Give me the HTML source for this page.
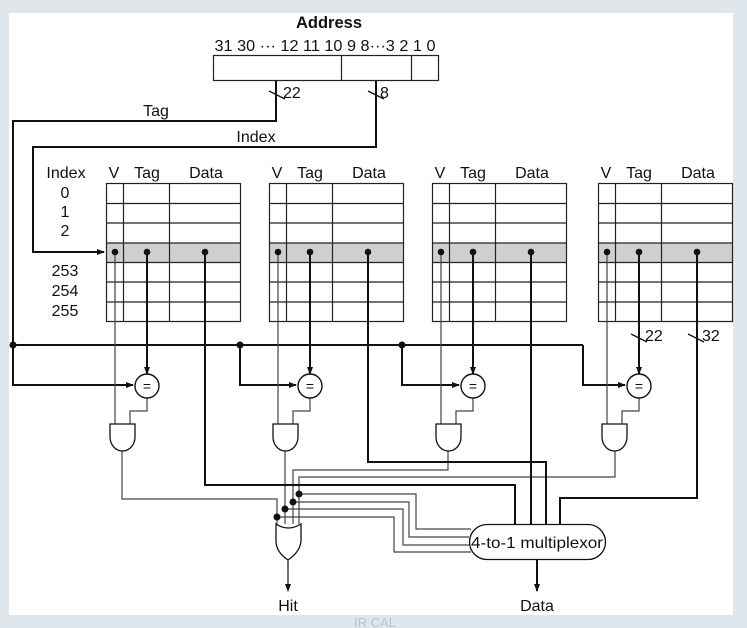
<!DOCTYPE html>
<html><head><meta charset="utf-8"><style>
html,body{margin:0;padding:0;background:#dfe6ec;}
svg{display:block;}
text{font-family:"Liberation Sans",Arial,sans-serif;fill:#111;}
</style></head><body>
<svg width="747" height="628" viewBox="0 0 747 628" xmlns="http://www.w3.org/2000/svg">
<defs>
<marker id="ar" markerWidth="8" markerHeight="8" refX="7" refY="4" orient="auto" markerUnits="userSpaceOnUse">
<path d="M0,1 L8,4 L0,7 z" fill="#111"/></marker>
</defs>
<rect x="9" y="13" width="724" height="602" fill="#fff"/>

<text x="329" y="28" font-size="16.5" font-weight="bold" text-anchor="middle">Address</text>
<text x="325" y="51" font-size="16" text-anchor="middle" textLength="221" lengthAdjust="spacingAndGlyphs">31 30 ··· 12 11 10 9 8···3 2 1 0</text>
<rect x="213.5" y="55.5" width="225" height="25" fill="none" stroke="#222" stroke-width="1.2"/>
<line x1="341.5" y1="55" x2="341.5" y2="81" stroke="#222" stroke-width="1.2"/>
<line x1="411.5" y1="55" x2="411.5" y2="81" stroke="#222" stroke-width="1.2"/>

<g fill="none" stroke="#111" stroke-width="2">
<polyline points="276,81 276,121 13,121 13,385 133,385" marker-end="url(#ar)"/>
<polyline points="376,81 376,147 33,147 33,252 104,252" marker-end="url(#ar)"/>
<line x1="13" y1="345" x2="583" y2="345"/>
<polyline points="583,345 583,385 625,385" marker-end="url(#ar)"/>
<polyline points="240,345 240,385 296,385" marker-end="url(#ar)"/>
<polyline points="402,345 402,385 459,385" marker-end="url(#ar)"/>
</g>
<g stroke="#111" stroke-width="1.3">
<line x1="269" y1="91" x2="285" y2="99"/>
<line x1="368" y1="91" x2="384" y2="99"/>
<line x1="631" y1="334" x2="647" y2="342"/>
<line x1="688" y1="334" x2="704" y2="342"/>
</g>
<text x="283" y="98" font-size="16">22</text>
<text x="380" y="98" font-size="16">8</text>
<text x="156" y="116" font-size="16" text-anchor="middle">Tag</text>
<text x="256" y="142" font-size="16" text-anchor="middle">Index</text>
<text x="645" y="341" font-size="16">22</text>
<text x="702" y="341" font-size="16">32</text>
<g fill="#111">
<circle cx="13" cy="345" r="3.5"/><circle cx="240" cy="345" r="3.5"/><circle cx="402" cy="345" r="3.5"/>
</g>

<g font-size="16" text-anchor="middle">
<text x="66" y="178">Index</text>
<text x="65" y="198">0</text><text x="65" y="217">1</text><text x="65" y="236">2</text>
<text x="65" y="276">253</text><text x="65" y="296">254</text><text x="65" y="316">255</text>
</g>

<g font-size="16" text-anchor="middle">
<g transform="translate(106,0)">
<text x="8" y="178">V</text><text x="41" y="178">Tag</text><text x="100" y="178">Data</text>
<rect x="0" y="243" width="134" height="19.5" fill="#cfcfcf"/>
<rect x="0.5" y="183.5" width="134" height="138" fill="none" stroke="#222" stroke-width="1.2"/>
<path d="M0,203.5h134M0,223h134M0,243h134M0,262.5h134M0,282h134M0,302h134M17.5,183v138M63.5,183v138" stroke="#222" stroke-width="1.2"/>
</g>
<g transform="translate(269,0)">
<text x="8" y="178">V</text><text x="41" y="178">Tag</text><text x="100" y="178">Data</text>
<rect x="0" y="243" width="134" height="19.5" fill="#cfcfcf"/>
<rect x="0.5" y="183.5" width="134" height="138" fill="none" stroke="#222" stroke-width="1.2"/>
<path d="M0,203.5h134M0,223h134M0,243h134M0,262.5h134M0,282h134M0,302h134M17.5,183v138M63.5,183v138" stroke="#222" stroke-width="1.2"/>
</g>
<g transform="translate(432,0)">
<text x="8" y="178">V</text><text x="41" y="178">Tag</text><text x="100" y="178">Data</text>
<rect x="0" y="243" width="134" height="19.5" fill="#cfcfcf"/>
<rect x="0.5" y="183.5" width="134" height="138" fill="none" stroke="#222" stroke-width="1.2"/>
<path d="M0,203.5h134M0,223h134M0,243h134M0,262.5h134M0,282h134M0,302h134M17.5,183v138M63.5,183v138" stroke="#222" stroke-width="1.2"/>
</g>
<g transform="translate(598,0)">
<text x="8" y="178">V</text><text x="41" y="178">Tag</text><text x="100" y="178">Data</text>
<rect x="0" y="243" width="134" height="19.5" fill="#cfcfcf"/>
<rect x="0.5" y="183.5" width="134" height="138" fill="none" stroke="#222" stroke-width="1.2"/>
<path d="M0,203.5h134M0,223h134M0,243h134M0,262.5h134M0,282h134M0,302h134M17.5,183v138M63.5,183v138" stroke="#222" stroke-width="1.2"/>
</g>
</g>

<g fill="none" stroke="#444" stroke-width="1.2">
<line x1="115" y1="252" x2="115" y2="424"/><line x1="278" y1="252" x2="278" y2="424"/>
<line x1="441" y1="252" x2="441" y2="424"/><line x1="607" y1="252" x2="607" y2="424"/>
<polyline points="147,398 147,411 130,411 130,424"/>
<polyline points="310,398 310,411 293,411 293,424"/>
<polyline points="473,398 473,411 456,411 456,424"/>
<polyline points="639,398 639,411 622,411 622,424"/>
<polyline points="122,451 122,499 277,499 277,524"/>
<polyline points="285,451 285,524"/>
<polyline points="448,451 448,470 293,470 293,524"/>
<polyline points="615,451 615,477 299,477 299,524"/>
<polyline points="299,494 416,494 416,529 471,529"/>
<polyline points="293,502 409,502 409,537 469,537"/>
<polyline points="285,509 403,509 403,545 469,545"/>
<polyline points="277,517 394,517 394,552 471,552"/>
</g>
<g fill="#111">
<circle cx="299" cy="494" r="3.5"/><circle cx="293" cy="502" r="3.5"/><circle cx="285" cy="509" r="3.5"/><circle cx="277" cy="517" r="3.5"/>
</g>

<g fill="none" stroke="#111" stroke-width="2">
<line x1="147" y1="252" x2="147" y2="374" marker-end="url(#ar)"/>
<line x1="310" y1="252" x2="310" y2="374" marker-end="url(#ar)"/>
<line x1="473" y1="252" x2="473" y2="374" marker-end="url(#ar)"/>
<line x1="639" y1="252" x2="639" y2="374" marker-end="url(#ar)"/>
<polyline points="205,252 205,485 515,485 515,524"/>
<polyline points="368,252 368,462 546,462 546,524"/>
<polyline points="531,252 531,524"/>
<polyline points="697,252 697,498 560,498 560,524"/>
<line x1="537" y1="559" x2="537" y2="591" marker-end="url(#ar)"/>
</g>
<line x1="288" y1="560" x2="288" y2="591" stroke="#111" stroke-width="1.2" marker-end="url(#ar)"/>

<g fill="#111">
<circle cx="115" cy="252" r="3.3"/><circle cx="147" cy="252" r="3.3"/><circle cx="205" cy="252" r="3.3"/>
<circle cx="278" cy="252" r="3.3"/><circle cx="310" cy="252" r="3.3"/><circle cx="368" cy="252" r="3.3"/>
<circle cx="441" cy="252" r="3.3"/><circle cx="473" cy="252" r="3.3"/><circle cx="531" cy="252" r="3.3"/>
<circle cx="607" cy="252" r="3.3"/><circle cx="639" cy="252" r="3.3"/><circle cx="697" cy="252" r="3.3"/>
</g>

<g fill="#fff" stroke="#111" stroke-width="1.4">
<circle cx="147" cy="386" r="12"/><circle cx="310" cy="386" r="12"/><circle cx="473" cy="386" r="12"/><circle cx="639" cy="386" r="12"/>
</g>
<g font-size="14" text-anchor="middle">
<text x="147" y="391">=</text><text x="310" y="391">=</text><text x="473" y="391">=</text><text x="639" y="391">=</text>
</g>

<g fill="#fff" stroke="#111" stroke-width="1.3">
<path d="M110,424 h25 v13 a12.5,14 0 0 1 -25,0 z"/>
<path d="M273,424 h25 v13 a12.5,14 0 0 1 -25,0 z"/>
<path d="M436,424 h25 v13 a12.5,14 0 0 1 -25,0 z"/>
<path d="M602,424 h25 v13 a12.5,14 0 0 1 -25,0 z"/>
<path d="M276,524 Q288,532 301,524 V541 Q300,552 288,560 Q276,552 276,541 Z"/>
<rect x="469.5" y="524.5" width="136" height="35" rx="17.5" ry="17.5"/>
</g>
<text x="537" y="548" font-size="16" text-anchor="middle" textLength="132" lengthAdjust="spacingAndGlyphs">4-to-1 multiplexor</text>

<text x="288" y="611" font-size="16" text-anchor="middle">Hit</text>
<text x="537" y="611" font-size="16" text-anchor="middle">Data</text>
<text x="375" y="627" font-size="13" text-anchor="middle" style="fill:#b8c2cc">IR CAL</text>
</svg>
</body></html>
